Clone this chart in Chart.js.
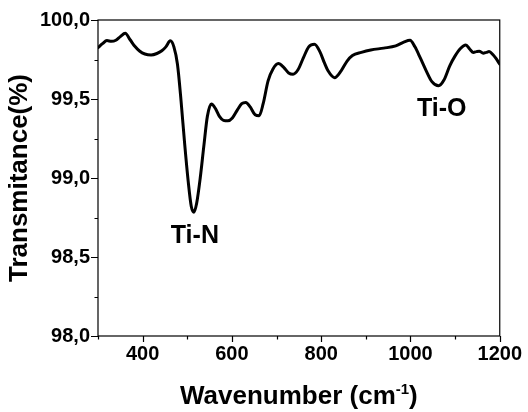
<!DOCTYPE html>
<html>
<head>
<meta charset="utf-8">
<script src="https://cdn.jsdelivr.net/npm/chart.js@4.4.1/dist/chart.umd.min.js"></script>
<style>
  html, body { margin: 0; padding: 0; background: #ffffff; }
  #wrap { width: 528px; height: 412px; position: relative; }
</style>
</head>
<body>
<div id="wrap"><canvas id="c" width="528" height="412"></canvas></div>
<script>
// ---- Data ----
const wavenumber = [
  300, 310, 320, 330, 340, 350, 361, 372, 382, 393, 405, 419, 432, 443, 452, 462,
  470, 478, 486, 494, 502, 509, 515, 521, 529, 537, 545, 554, 563, 572, 581, 591,
  601, 612, 622, 631, 641, 652, 661, 670, 681, 692, 704, 716, 727, 737, 748, 760,
  772, 785, 797, 807, 815, 830, 845, 858, 870, 890, 911, 940, 967, 985, 999, 1010,
  1022, 1035, 1048, 1063, 1075, 1088, 1100, 1112, 1124, 1133, 1141, 1148, 1154, 1163,
  1170, 1176, 1185, 1192, 1200
];
const transmittance = [
  99.825, 99.850, 99.870, 99.865, 99.872, 99.895, 99.916, 99.875, 99.835, 99.804, 99.785, 99.779, 99.788, 99.805, 99.830, 99.868,
  99.830, 99.720, 99.490, 99.220, 98.980, 98.820, 98.784, 98.840, 99.000, 99.200, 99.390, 99.468, 99.440, 99.390, 99.365, 99.362,
  99.380, 99.430, 99.470, 99.478, 99.450, 99.400, 99.394, 99.470, 99.615, 99.690, 99.724, 99.700, 99.665, 99.657, 99.685, 99.760,
  99.830, 99.847, 99.800, 99.730, 99.680, 99.635, 99.680, 99.740, 99.775, 99.795, 99.810, 99.822, 99.836, 99.860, 99.872, 99.830,
  99.760, 99.680, 99.610, 99.584, 99.620, 99.710, 99.773, 99.820, 99.842, 99.815, 99.795, 99.800, 99.803, 99.790,
  99.795, 99.800, 99.780, 99.755, 99.720
];
const xTickValues = [400, 600, 800, 1000, 1200];
const xTickLabels = ['400', '600', '800', '1000', '1200'];
const yTickValues = [98.0, 98.5, 99.0, 99.5, 100.0];
const yTickLabels = ['98,0', '98,5', '99,0', '99,5', '100,0'];
const xTitleMain = 'Wavenumber (cm';
const xTitleSup = '-1';
const xTitleEnd = ')';
const yTitle = 'Transmitance(%)';
const annotationLabels = ['Ti-N', 'Ti-O'];
const annotationX = [517, 1070];
const annotationY = [98.635, 99.435];

const FONT = '"Liberation Sans", Arial, Helvetica, sans-serif';

function labelFor(values, labels, v) {
  for (let i = 0; i < values.length; i++) {
    if (Math.abs(values[i] - v) < 1e-6) return labels[i];
  }
  return '';
}

const framePlugin = {
  id: 'frameTicksTitles',
  afterDraw(chart) {
    const ctx = chart.ctx;
    const a = chart.chartArea;
    const xs = chart.scales.x, ys = chart.scales.y;
    ctx.save();
    ctx.strokeStyle = '#000';
    ctx.lineWidth = 1.2;
    ctx.strokeRect(a.left, a.top, a.right - a.left, a.bottom - a.top);
    // ticks
    ctx.beginPath();
    xs.ticks.forEach(t => {
      const px = Math.round(xs.getPixelForValue(t.value)) + 0.5;
      const major = labelFor(xTickValues, xTickLabels, t.value) !== '';
      const len = major ? 6 : 3.5;
      ctx.moveTo(px, a.bottom);
      ctx.lineTo(px, a.bottom + len);
    });
    ys.ticks.forEach(t => {
      const py = Math.round(ys.getPixelForValue(t.value)) + 0.5;
      const major = labelFor(yTickValues, yTickLabels, t.value) !== '';
      const len = major ? 7 : 3.5;
      ctx.moveTo(a.left, py);
      ctx.lineTo(a.left - len, py);
    });
    ctx.stroke();
    // annotations
    ctx.fillStyle = '#000';
    ctx.font = 'bold 25px ' + FONT;
    ctx.textAlign = 'center';
    ctx.textBaseline = 'middle';
    annotationLabels.forEach((txt, i) => {
      ctx.fillText(txt, xs.getPixelForValue(annotationX[i]), ys.getPixelForValue(annotationY[i]));
    });
    // y title
    ctx.save();
    ctx.translate(20, (a.top + a.bottom) / 2);
    ctx.rotate(-Math.PI / 2);
    ctx.font = 'bold 26px ' + FONT;
    ctx.textAlign = 'center';
    ctx.textBaseline = 'middle';
    ctx.fillText(yTitle, 0, 0);
    ctx.restore();
    // x title with superscript
    const big = 'bold 26px ' + FONT, small = 'bold 15px ' + FONT;
    ctx.font = big;
    const w1 = ctx.measureText(xTitleMain).width;
    const w3 = ctx.measureText(xTitleEnd).width;
    ctx.font = small;
    const w2 = ctx.measureText(xTitleSup).width;
    const total = w1 + w2 + w3;
    const cx = (a.left + a.right) / 2;
    let x0 = cx - total / 2;
    const yb = 404;
    ctx.textAlign = 'left';
    ctx.textBaseline = 'alphabetic';
    ctx.font = big;
    ctx.fillText(xTitleMain, x0, yb);
    ctx.font = small;
    ctx.fillText(xTitleSup, x0 + w1, yb - 10);
    ctx.font = big;
    ctx.fillText(xTitleEnd, x0 + w1 + w2, yb);
    ctx.restore();
  }
};

const points = wavenumber.map((w, i) => ({ x: w, y: transmittance[i] }));

new Chart(document.getElementById('c'), {
  type: 'line',
  data: {
    datasets: [{
      data: points,
      borderColor: '#000',
      borderWidth: 3,
      pointRadius: 0,
      cubicInterpolationMode: 'monotone',
      borderJoinStyle: 'round',
      borderCapStyle: 'round',
      fill: false
    }]
  },
  options: {
    responsive: false,
    animation: false,
    devicePixelRatio: 1,
    layout: { padding: { top: 19, right: 25, left: 0, bottom: 0 } },
    plugins: { legend: { display: false }, tooltip: { enabled: false } },
    scales: {
      x: {
        type: 'linear',
        min: 300, max: 1200,
        afterFit(s) { s.height = 76; },
        grid: { display: false, drawTicks: false },
        border: { display: false },
        ticks: {
          stepSize: 100,
          autoSkip: false,
          maxRotation: 0,
          padding: 6,
          color: '#000',
          font: { family: FONT, size: 20, weight: 'bold' },
          callback: v => labelFor(xTickValues, xTickLabels, v)
        }
      },
      y: {
        min: 98, max: 100,
        afterFit(s) { s.width = 98; },
        grid: { display: false, drawTicks: false },
        border: { display: false },
        ticks: {
          stepSize: 0.25,
          autoSkip: false,
          padding: 8,
          color: '#000',
          font: { family: FONT, size: 20, weight: 'bold' },
          callback: v => labelFor(yTickValues, yTickLabels, v)
        }
      }
    }
  },
  plugins: [framePlugin]
});
</script>
</body>
</html>
